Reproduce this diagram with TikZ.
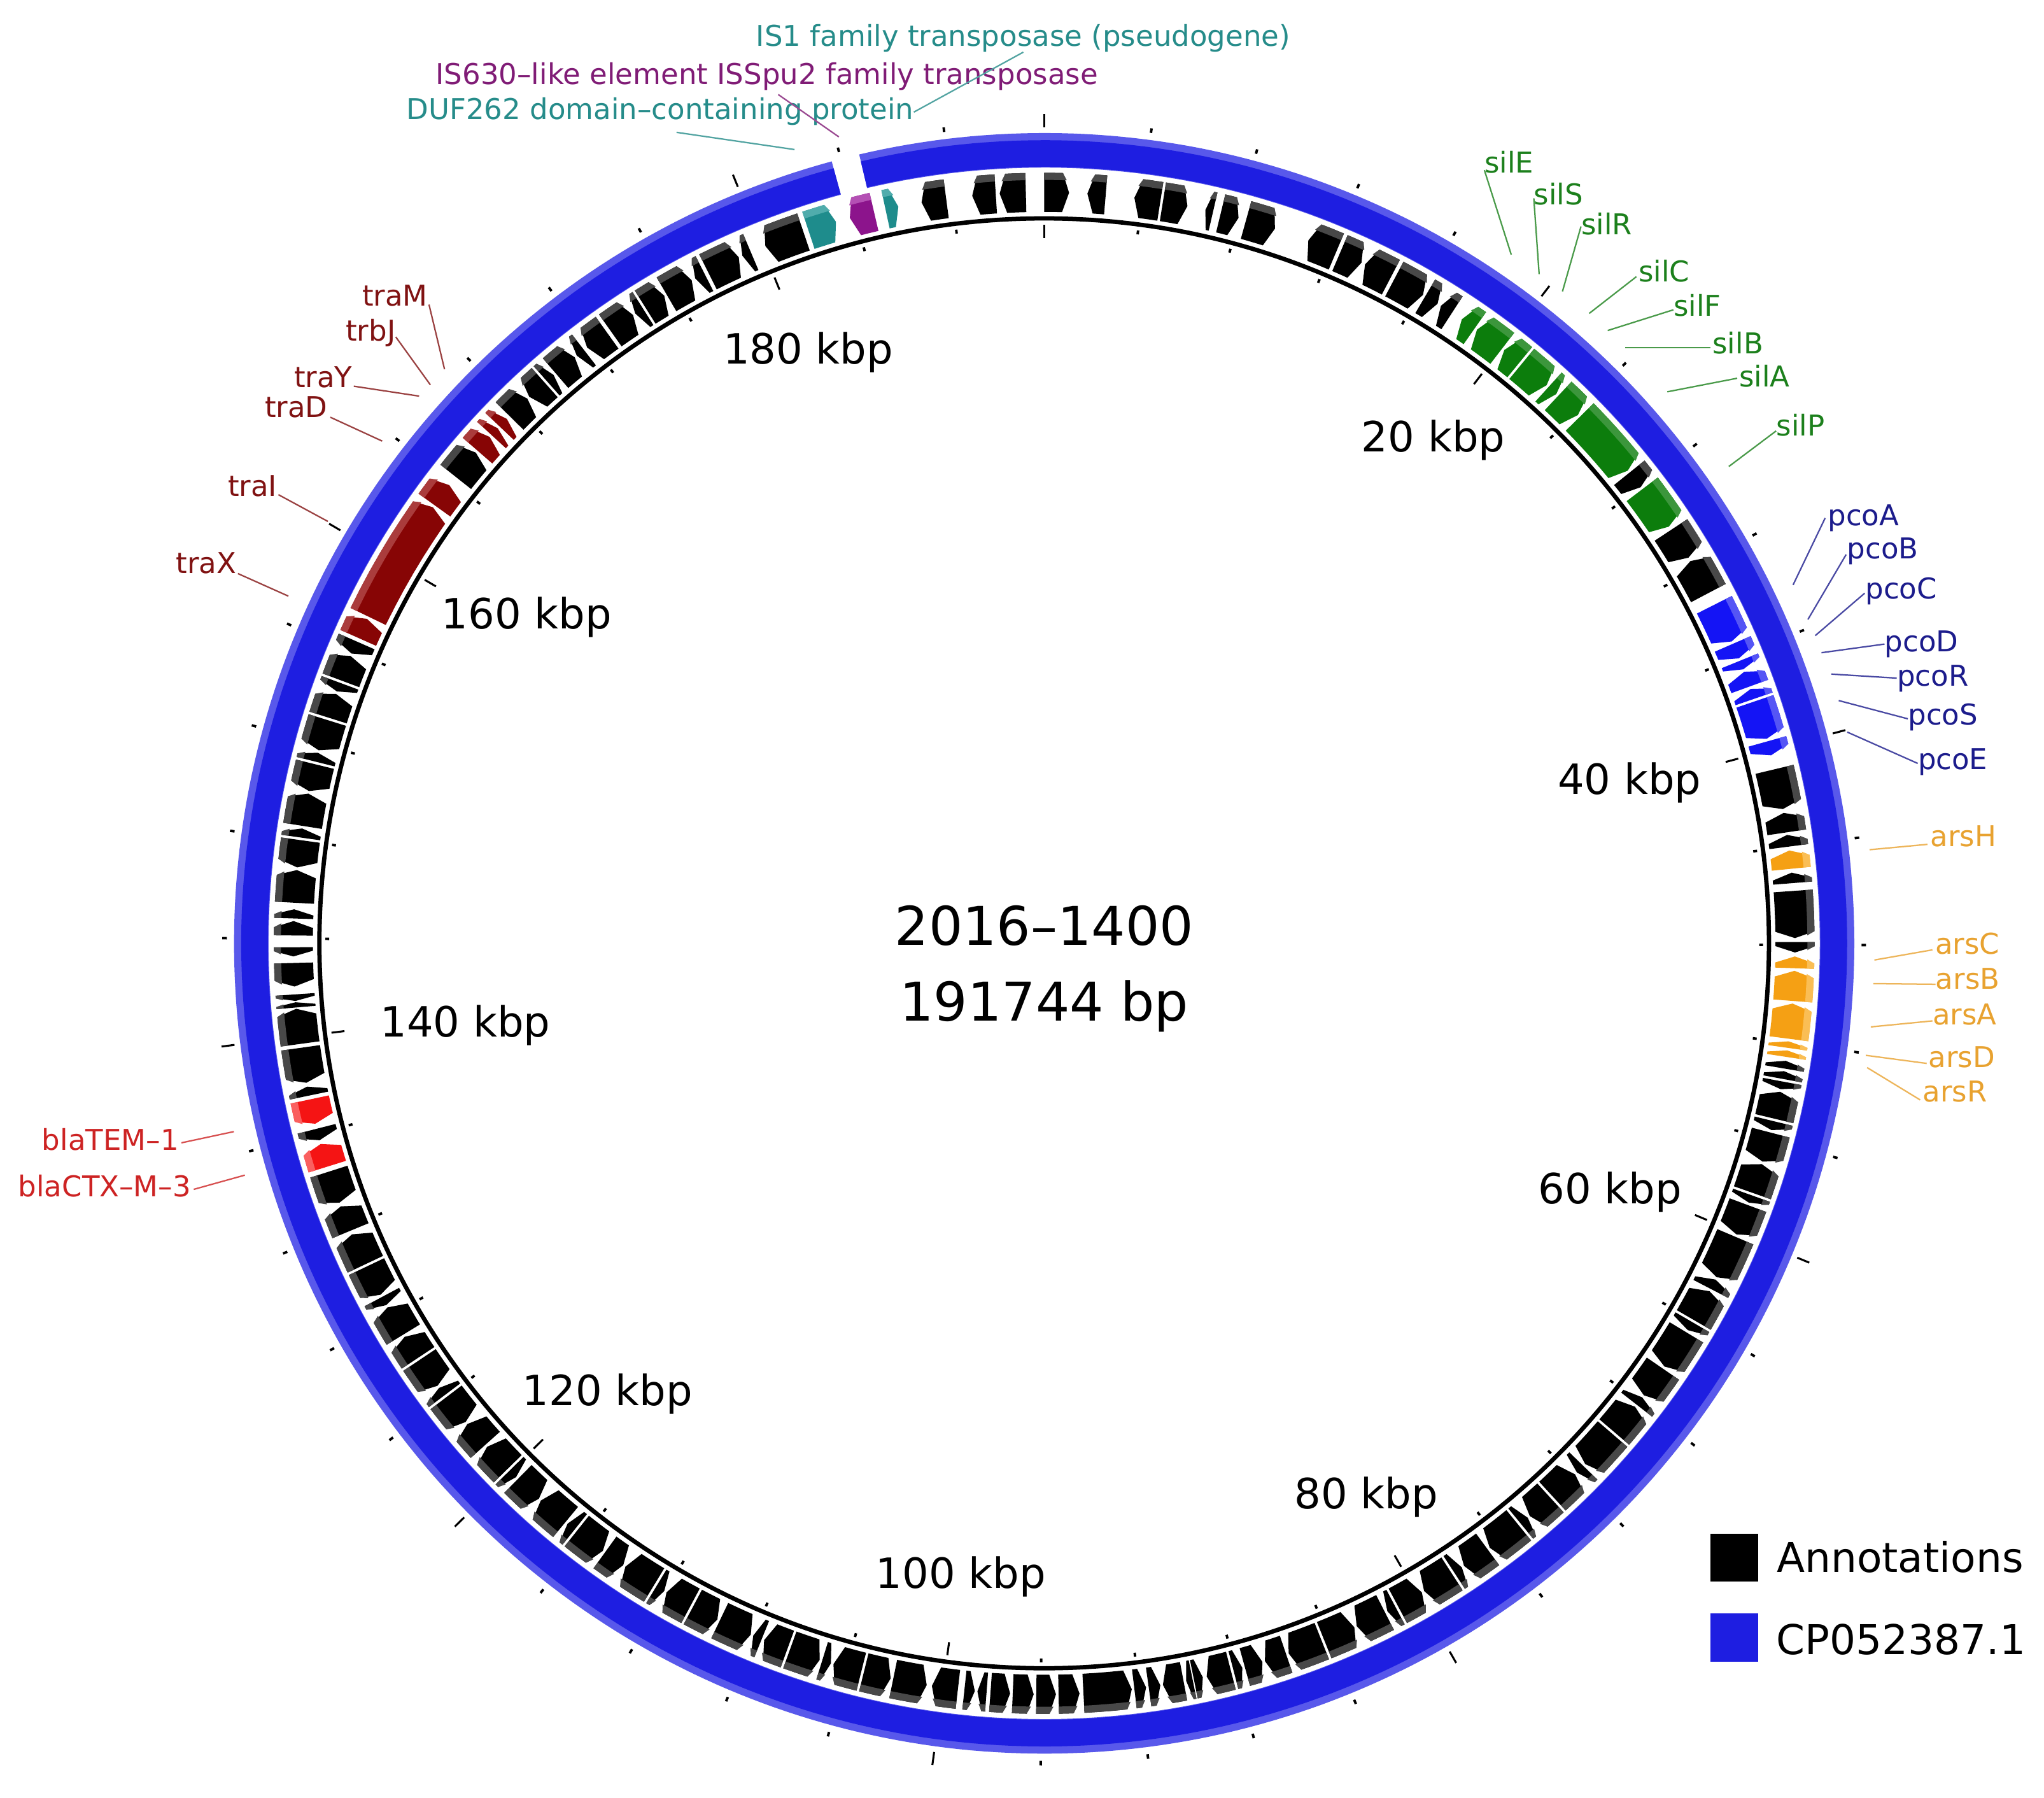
\documentclass[tikz,border=0pt]{standalone}
\usepackage{fontspec}
\setmainfont{DejaVu Sans}
\definecolor{gK}{RGB}{0,0,0}\definecolor{gKL}{RGB}{72,72,72}
\definecolor{gG}{RGB}{12,125,12}\definecolor{gGL}{RGB}{60,150,60}
\definecolor{gB}{RGB}{20,20,245}\definecolor{gBL}{RGB}{85,85,245}
\definecolor{gO}{RGB}{245,160,20}\definecolor{gOL}{RGB}{250,190,85}
\definecolor{gR}{RGB}{135,5,5}\definecolor{gRL}{RGB}{170,60,60}
\definecolor{gE}{RGB}{245,20,20}\definecolor{gEL}{RGB}{250,95,95}
\definecolor{gT}{RGB}{30,140,140}\definecolor{gTL}{RGB}{80,172,172}
\definecolor{gP}{RGB}{140,20,140}\definecolor{gPL}{RGB}{180,80,180}
\definecolor{ringmain}{RGB}{30,30,225}\definecolor{ringlight}{RGB}{88,88,235}
\definecolor{cTeal}{RGB}{38,140,138}\definecolor{cPurple}{RGB}{128,28,118}
\definecolor{cGreen}{RGB}{28,128,28}\definecolor{cNavy}{RGB}{28,28,140}
\definecolor{cOrange}{RGB}{232,162,48}\definecolor{cDarkRed}{RGB}{128,18,18}
\definecolor{cRed}{RGB}{205,35,35}
\tikzset{
  genelabel/.style={inner sep=0pt, font=\fontsize{22}{26}\selectfont},
  leader/.style={line width=1.1pt},
  kbplabel/.style={inner sep=0pt, anchor=base, font=\fontsize{32}{38}\selectfont},
  centertext/.style={inner sep=0pt, anchor=base, font=\fontsize{41}{48}\selectfont},
  legendtext/.style={inner sep=0pt, anchor=base west, font=\fontsize{31.5}{38}\selectfont},
  legendbox/.style={inner sep=0pt, minimum width=37pt, minimum height=37pt},
  tickmajor/.style={line width=1.5pt},
  tickminor/.style={line width=1.9pt}
}
\newcommand\gene[4]{%
  \pgfmathsetmacro\gH{min(0.5,(#2-(#1))*0.6)}%
  \ifnum#3=1\relax
    \pgfmathsetmacro\gC{#2-\gH}%
    \pgfmathsetmacro\gD{#2-0.4*\gH}%
    \fill[#4] plot[domain=#1:\gC,samples=7] ({\x-90}:591) -- ({#2-90}:576) -- plot[domain=\gC:#1,samples=7] ({\x-90}:561) -- cycle;
    \fill[#4L] plot[domain=#1:\gC,samples=7] ({\x-90}:591) -- ({\gD-90}:585.5) -- plot[domain=\gD:#1,samples=7] ({\x-90}:585.5) -- cycle;
  \else
    \pgfmathsetmacro\gC{#1+\gH}%
    \pgfmathsetmacro\gD{#1+0.4*\gH}%
    \fill[#4] ({#1-90}:576) -- plot[domain=\gC:#2,samples=7] ({\x-90}:591) -- plot[domain=#2:\gC,samples=7] ({\x-90}:561) -- cycle;
    \fill[#4L] ({\gD-90}:585.5) -- plot[domain=\gC:#2,samples=7] ({\x-90}:591) -- plot[domain=#2:\gD,samples=7] ({\x-90}:585.5) -- cycle;
  \fi}
\begin{document}
\begin{tikzpicture}[x=1pt,y=-1pt]
\useasboundingbox (0,0) rectangle (1568,1379);
\fill[white] (0,0) rectangle (1568,1379);
\begin{scope}[shift={(801,723.5)}]
  % blue ring (CP052387.1)
  \fill[ringlight] plot[domain=-13.2:344.8,samples=400] ({\x-90}:621.5) -- plot[domain=344.8:-13.2,samples=400] ({\x-90}:595) -- cycle;
  \fill[ringmain] plot[domain=-13.2:344.8,samples=400] ({\x-90}:616) -- plot[domain=344.8:-13.2,samples=400] ({\x-90}:595.5) -- cycle;
  % backbone circle
  \draw[line width=3.3pt] (0,0) circle[radius=556pt];
  % ticks every 4 kbp
  \foreach \k in {0,...,47}{%
    \pgfmathsetmacro\tA{\k*7.51002-90}%
    \pgfmathtruncatemacro\tM{mod(\k,5)}%
    \ifnum\tM=0
      \draw[tickmajor] (\tA:626) -- (\tA:636);
      \draw[tickmajor] (\tA:541) -- (\tA:551);
    \else
      \draw[tickminor] (\tA:627) -- (\tA:630.5);
      \draw[tickminor] (\tA:548.5) -- (\tA:551.5);
    \fi}
  % black annotations
  \foreach \a/\b/\d in {0.0/1.9/1, 3.3/4.7/0, 6.9/8.9/0, 9.1/11.0/1, 12.4/13.0/0, 13.6/15.0/1, 15.6/17.9/1,
    20.6/22.9/0, 23.2/25.0/1, 25.3/27.5/0, 27.8/30.3/1, 30.5/31.6/1, 31.9/32.9/0,
    51.2/52.6/1, 56.6/59.1/1, 59.4/62.2/0, 76.6/79.7/1, 80.0/81.5/0, 81.7/82.6/0,
    84.6/85.4/0, 86.0/89.6/1, 89.9/90.7/1,
    99.0/99.6/0, 99.8/100.4/0, 100.6/101.2/1, 101.4/103.5/0, 103.7/104.4/1, 104.6/106.9/1, 107.1/109.4/0,
    109.6/110.2/1, 110.4/112.8/1, 113.0/116.4/1, 116.6/117.4/0, 117.6/120.1/0, 120.3/121.0/1, 121.2/124.3/1,
    124.5/127.0/1, 127.2/127.9/0, 128.1/130.6/0, 130.8/133.9/1, 134.1/134.8/1, 135.0/137.4/0, 137.6/139.7/1,
    139.9/140.6/0, 140.8/143.6/1, 143.8/146.0/1, 146.2/146.9/0, 147.1/149.6/1, 149.8/151.9/0, 152.1/152.8/1,
    153.0/155.4/1, 155.6/158.1/0, 158.3/161.0/1, 161.2/162.9/1, 163.1/164.5/0, 164.7/165.4/0, 165.6/167.5/1,
    167.8/168.5/0, 168.6/169.1/1, 169.3/170.9/1, 171.1/172.0/0, 172.2/173.1/0, 173.3/177.0/0, 177.3/178.9/0,
    179.1/180.6/0, 180.8/182.4/0, 182.6/184.1/0, 184.4/185.1/1, 185.3/186.1/0, 186.6/188.6/1, 189.0/191.6/0,
    191.8/193.9/0, 194.1/196.3/1, 196.5/197.2/0, 197.4/199.8/0, 200.0/201.9/1, 202.1/202.8/1, 203.0/205.6/0,
    205.8/207.9/0, 208.1/210.2/1, 210.4/211.1/0, 211.3/213.9/1, 214.1/215.8/0, 216.0/218.5/0, 218.7/219.4/1,
    219.6/222.1/1, 222.3/224.5/0, 224.7/225.4/0, 225.6/227.9/1, 228.1/230.2/1, 230.4/232.8/0, 233.0/233.7/1,
    233.9/236.3/0, 236.5/238.4/1, 238.6/241.0/1, 241.2/241.9/0, 242.1/244.5/0, 244.7/247.2/1, 247.5/249.5/1,
    249.8/252.3/0, 254.8/255.7/0, 258.3/259.0/1, 259.3/262.0/0, 262.3/265.0/1, 265.1/265.5/1, 265.6/266.1/0,
    266.7/268.5/0, 269.0/269.7/0, 270.6/271.7/1, 271.9/272.6/1, 273.1/275.6/1, 275.8/277.9/0, 278.1/278.8/1,
    279.0/281.5/1, 281.7/283.8/0, 284.0/284.7/1, 284.9/287.3/0, 287.5/289.4/1, 289.6/290.3/0, 290.5/292.5/1,
    292.7/293.7/0, 308.4/310.8/1, 314.6/316.5/1, 316.7/318.3/0, 318.5/319.2/1, 319.4/321.3/1, 321.5/322.2/0,
    322.5/324.4/0, 324.7/326.8/1, 327.0/327.7/0, 327.9/329.6/1, 329.8/332.0/1, 332.3/333.1/0, 333.4/336.0/1,
    336.3/337.0/0, 338.2/341.3/0, 350.6/352.5/0, 354.5/356.3/0, 356.6/358.6/0}{\gene{\a}{\b}{\d}{gK}}
  % sil (green)
  \foreach \a/\b/\d in {33.8/35.0/0, 35.2/37.6/0, 37.8/39.3/0, 39.5/42.0/1, 42.2/43.0/1, 43.2/45.3/1, 45.5/51.0/1, 52.8/56.3/1}{\gene{\a}{\b}{\d}{gG}}
  % pco (blue)
  \foreach \a/\b/\d in {63.2/66.3/1, 66.5/67.7/1, 67.9/68.6/1, 68.8/70.0/0, 70.2/71.0/0, 71.2/74.2/1, 74.4/75.5/1}{\gene{\a}{\b}{\d}{gB}}
  % ars (orange)
  \foreach \a/\b/\d in {82.9/84.3/0, 91.0/91.9/0, 92.1/94.4/0, 94.6/97.3/0, 97.5/98.0/0, 98.2/98.7/0}{\gene{\a}{\b}{\d}{gO}}
  % bla (red)
  \foreach \a/\b/\d in {252.7/254.5/1, 256.1/258.0/0}{\gene{\a}{\b}{\d}{gE}}
  % tra (dark red)
  \foreach \a/\b/\d in {294.0/295.6/1, 295.8/305.5/1, 305.7/307.6/1, 311.0/312.4/1, 312.6/313.3/1, 313.5/314.3/1}{\gene{\a}{\b}{\d}{gR}}
  % IS elements
  \gene{341.7}{343.9}{1}{gT}
  \gene{345.0}{346.9}{0}{gP}
  \gene{347.8}{348.8}{1}{gT}
\end{scope}

% kbp labels
\node[kbplabel] (k20) at (1099.5,346.5) {20 kbp};
\node[kbplabel] (k40) at (1250,609) {40 kbp};
\node[kbplabel] (k60) at (1235,923) {60 kbp};
\node[kbplabel] (k80) at (1048,1157) {80 kbp};
\node[kbplabel] (k100) at (737,1218) {100 kbp};
\node[kbplabel] (k120) at (466,1078) {120 kbp};
\node[kbplabel] (k140) at (357,795) {140 kbp};
\node[kbplabel] (k160) at (404,482) {160 kbp};
\node[kbplabel] (k180) at (620,279) {180 kbp};

% centre title
\node[centertext] (title1) at (801,725) {2016–1400};
\node[centertext] (title2) at (801,783) {191744 bp};

% top labels
\node[genelabel, text=cTeal, anchor=base east] (lIS1) at (990,35.5) {IS1 family transposase (pseudogene)};
\node[genelabel, text=cPurple, anchor=base east] (lIS630) at (842.5,64.5) {IS630–like element ISSpu2 family transposase};
\node[genelabel, text=cTeal, anchor=base east] (lDUF) at (701,91.5) {DUF262 domain–containing protein};
\coordinate (IS1s) at (785,40); \coordinate (IS1e) at (701,86);
\coordinate (IS630s) at (597,72.5); \coordinate (IS630e) at (643.5,105);
\coordinate (DUFs) at (519,101.5); \coordinate (DUFe) at (609.5,114.7);
\draw[leader, cTeal!80] (IS1s) -- (IS1e);
\draw[leader, cPurple!80] (IS630s) -- (IS630e);
\draw[leader, cTeal!80] (DUFs) -- (DUFe);

% sil labels
\foreach \n/\tx/\ty/\sx/\sy/\ex/\ey in {silE/1138.7/132.4/1138.7/130.5/1159.3/195.3,
  silS/1176.6/156.8/1176.6/152.1/1180.7/210.3,
  silR/1212.8/180/1212.8/173.7/1198.6/223.5,
  silC/1256.9/216/1255.3/212.2/1219.1/240.4,
  silF/1283.7/242.3/1283.7/237.6/1233.3/253.5,
  silB/1313.6/271.4/1311.9/266.7/1246.8/266.7,
  silA/1334.1/296.7/1332.6/290.1/1279/300.5,
  silP/1362.5/334.3/1362.5/330.5/1326.2/357.8}{%
  \node[genelabel, text=cGreen, anchor=base west] (l\n) at (\tx,\ty) {\n};
  \coordinate (\n s) at (\sx,\sy); \coordinate (\n e) at (\ex,\ey);
  \draw[leader, cGreen!80] (\n s) -- (\n e);}

% pco labels
\foreach \n/\tx/\ty/\sx/\sy/\ex/\ey in {pcoA/1402/402.9/1400.1/397.3/1375.5/448.6,
  pcoB/1416.8/428.4/1416.2/425.3/1386.9/475.1,
  pcoC/1430.8/459.5/1430.4/455/1392.5/487.5,
  pcoD/1445.6/499.9/1445.6/494/1397.3/500.6,
  pcoR/1455/526.4/1455/520.1/1404.8/517,
  pcoS/1463.5/555.9/1463.5/551.3/1410.5/537.3,
  pcoE/1471.1/590.1/1471.1/585.5/1417.1/561.5}{%
  \node[genelabel, text=cNavy, anchor=base west] (l\n) at (\tx,\ty) {\n};
  \coordinate (\n s) at (\sx,\sy); \coordinate (\n e) at (\ex,\ey);
  \draw[leader, cNavy!80] (\n s) -- (\n e);}

% ars labels
\foreach \n/\tx/\ty/\sx/\sy/\ex/\ey in {arsH/1480.6/649.2/1478.6/647.6/1434.2/651.7,
  arsC/1484.3/731.6/1482.4/728.5/1437.9/736.3,
  arsB/1484.7/758.7/1484.8/754.9/1437/754.4,
  arsA/1482.4/786.1/1482.4/783/1435.1/787.6,
  arsD/1479.2/818.7/1478/815.6/1431.3/809.4,
  arsR/1474.9/845.2/1473/843.6/1432.3/818.8}{%
  \node[genelabel, text=cOrange, anchor=base west] (l\n) at (\tx,\ty) {\n};
  \coordinate (\n s) at (\sx,\sy); \coordinate (\n e) at (\ex,\ey);
  \draw[leader, cOrange!80] (\n s) -- (\n e);}

% tra labels
\foreach \n/\tx/\ty/\sx/\sy/\ex/\ey in {traM/328.2/234.6/329.1/233.6/341/283.2,
  trbJ/303.6/261.6/303.6/258.4/330.1/295.1,
  traY/270.4/297.3/271.4/296.2/321.5/303.8,
  traD/251.5/320/253.4/320/293.2/338.3,
  traI/212.7/380.5/213.6/379.4/251.5/399.9,
  traX/181.5/439.9/182.5/439.9/221.2/457.2}{%
  \node[genelabel, text=cDarkRed, anchor=base east] (l\n) at (\tx,\ty) {\n};
  \coordinate (\n s) at (\sx,\sy); \coordinate (\n e) at (\ex,\ey);
  \draw[leader, cDarkRed!80] (\n s) -- (\n e);}

% bla labels
\node[genelabel, text=cRed, anchor=base east] (lTEM) at (137.3,882.2) {blaTEM–1};
\node[genelabel, text=cRed, anchor=base east] (lCTX) at (146.7,917.9) {blaCTX–M–3};
\coordinate (TEMs) at (139.2,876.5); \coordinate (TEMe) at (179.4,867.9);
\coordinate (CTXs) at (148.6,912.2); \coordinate (CTXe) at (187.8,901.3);
\draw[leader, cRed!80] (TEMs) -- (TEMe);
\draw[leader, cRed!80] (CTXs) -- (CTXe);

% legend
\node[legendbox, fill=black] (lgA) at (1330.4,1194.7) {};
\node[legendbox, fill=ringmain] (lgB) at (1330.4,1256.1) {};
\node[legendtext] (lgAt) at (1362.8,1206) {Annotations};
\node[legendtext] (lgBt) at (1362.5,1268.7) {CP052387.1};
\end{tikzpicture}
\end{document}
